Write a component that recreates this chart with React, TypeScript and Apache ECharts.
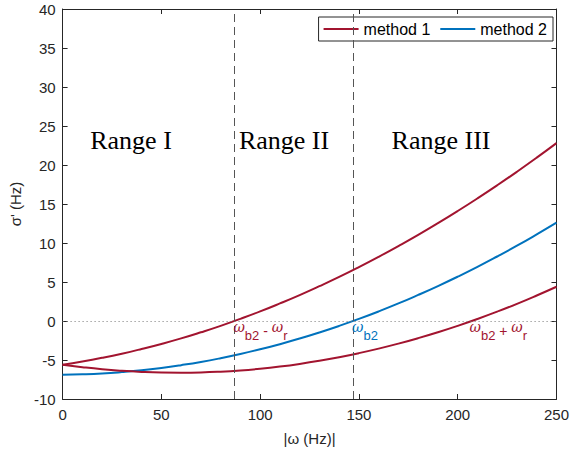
import React, { useEffect, useRef } from "react";
import * as echarts from "echarts";

const omega = [0, 10, 20, 30, 40, 50, 60, 70, 80, 90, 100, 110, 120, 130, 140, 150, 160, 170, 180, 190, 200, 210, 220, 230, 240, 250];
const method1Upper = [-5.6, -5.19, -4.72, -4.19, -3.59, -2.94, -2.23, -1.45, -0.62, 0.28, 1.23, 2.25, 3.32, 4.46, 5.65, 6.91, 8.23, 9.61, 11.04, 12.54, 14.1, 15.72, 17.4, 19.14, 20.94, 22.8];
const method2 = [-6.9, -6.84, -6.73, -6.55, -6.32, -6.02, -5.66, -5.25, -4.77, -4.23, -3.63, -2.97, -2.25, -1.47, -0.63, 0.27, 1.23, 2.25, 3.34, 4.48, 5.68, 6.94, 8.27, 9.65, 11.1, 12.6];
const method1Lower = [-5.6, -5.92, -6.19, -6.39, -6.53, -6.61, -6.63, -6.6, -6.5, -6.34, -6.12, -5.84, -5.5, -5.1, -4.64, -4.12, -3.54, -2.9, -2.2, -1.44, -0.62, 0.26, 1.2, 2.2, 3.27, 4.39];
const boundaries = [87, 147];
const rangeLabels = ["Range I", "Range II", "Range III"];

const RED = "#A2142F";
const BLUE = "#0072BD";
const AX = "#262626";
const FONT = "Liberation Sans";

export default function App() {
  const ref = useRef<HTMLDivElement>(null);
  useEffect(() => {
    if (!ref.current) return;
    const chart = echarts.init(ref.current, null, { renderer: "svg" });
    const pairs = (ys: number[]) => omega.map((x, i) => [x, ys[i]]);
    const axisCommon = {
      axisLine: { show: true, onZero: false, lineStyle: { color: AX, width: 1 } },
      axisTick: { show: true, inside: true, length: 5, lineStyle: { color: AX } },
      splitLine: { show: false },
    };
    const sub = (c: string) => ({
      w: { fontSize: 14, color: c, fontFamily: "DejaVu Serif", fontStyle: "italic", verticalAlign: "top", lineHeight: 22 },
      s: { fontSize: 13, color: c, fontFamily: FONT, verticalAlign: "bottom", lineHeight: 22 },
      o: { fontSize: 14, color: c, fontFamily: FONT, lineHeight: 22, verticalAlign: "middle" },
    });
    const rangeText = (i: number, x: number) => ({
      type: "text",
      x,
      y: 140,
      style: { text: rangeLabels[i], font: "26px 'Liberation Serif'", fill: "#000", align: "center", verticalAlign: "middle" },
    });
    chart.setOption({
      animation: false,
      grid: { left: 61, right: 12, top: 9, bottom: 49 },
      legend: {
        right: 19,
        top: 17,
        data: [
          { name: "method 1", icon: "rect" },
          { name: "method 2", icon: "rect" },
        ],
        itemWidth: 35,
        itemHeight: 2,
        itemGap: 10,
        borderColor: AX,
        borderWidth: 1,
        padding: [4, 6, 4, 5],
        backgroundColor: "#fff",
        textStyle: { fontFamily: FONT, fontSize: 16, color: "#000" },
      },
      xAxis: [
        {
          type: "value",
          min: 0,
          max: 250,
          interval: 50,
          ...axisCommon,
          axisLabel: { fontFamily: FONT, fontSize: 15, color: AX, margin: 8 },
          name: "|ω (Hz)|",
          nameLocation: "middle",
          nameGap: 32,
          nameTextStyle: { fontFamily: FONT, fontSize: 15, color: AX },
        },
        { type: "value", position: "top", min: 0, max: 250, interval: 50, ...axisCommon, axisLabel: { show: false } },
      ],
      yAxis: [
        {
          type: "value",
          min: -10,
          max: 40,
          interval: 5,
          ...axisCommon,
          axisLabel: { fontFamily: FONT, fontSize: 15, color: AX, margin: 7 },
          name: "σ' (Hz)",
          nameLocation: "middle",
          nameGap: 34,
          nameRotate: 90,
          nameTextStyle: { fontFamily: FONT, fontSize: 15, color: AX },
        },
        { type: "value", position: "right", min: -10, max: 40, interval: 5, ...axisCommon, axisLabel: { show: false } },
      ],
      series: [
        {
          name: "method 1",
          type: "line",
          data: pairs(method1Upper),
          smooth: true,
          showSymbol: false,
          lineStyle: { color: RED, width: 2 },
          itemStyle: { color: RED },
          z: 3,
          markLine: {
            silent: true,
            symbol: "none",
            label: { show: false },
            lineStyle: { color: "#555", type: [8, 5], width: 1 },
            data: boundaries.map((b) => ({ xAxis: b })),
          },
        },
        {
          name: "method 2",
          type: "line",
          data: pairs(method2),
          smooth: true,
          showSymbol: false,
          lineStyle: { color: BLUE, width: 2 },
          itemStyle: { color: BLUE },
          z: 3,
          markLine: {
            silent: true,
            symbol: "none",
            label: { show: false },
            lineStyle: { color: "#777", type: [1, 3], width: 1 },
            data: [{ yAxis: 0 }],
          },
          markPoint: {
            silent: true,
            symbol: "circle",
            symbolSize: 0,
            data: [
              {
                coord: [boundaries[1], 0],
                label: {
                  show: true,
                  position: "right",
                  distance: 0,
                  offset: [-1, 10],
                  formatter: "{w|ω}{s|b2}",
                  rich: sub(BLUE),
                },
              },
            ],
          },
        },
        {
          name: "method 1",
          type: "line",
          data: pairs(method1Lower),
          smooth: true,
          showSymbol: false,
          lineStyle: { color: RED, width: 2 },
          itemStyle: { color: RED },
          z: 3,
          markPoint: {
            silent: true,
            symbol: "circle",
            symbolSize: 0,
            data: [
              {
                coord: [boundaries[0], 0],
                label: {
                  show: true,
                  position: "right",
                  distance: 0,
                  offset: [-1, 10],
                  formatter: "{w|ω}{s|b2}{o| - }{w|ω}{s|r}",
                  rich: sub(RED),
                },
              },
              {
                coord: [207, 0],
                label: {
                  show: true,
                  position: "right",
                  distance: 0,
                  offset: [-2, 10],
                  formatter: "{w|ω}{s|b2}{o| + }{w|ω}{s|r}",
                  rich: sub(RED),
                },
              },
            ],
          },
        },
      ],
      graphic: [rangeText(0, 131), rangeText(1, 284), rangeText(2, 441)],
    });
    return () => chart.dispose();
  }, []);
  return <div ref={ref} style={{ width: 572, height: 451, position: "absolute", left: 0, top: 0 }} />;
}
